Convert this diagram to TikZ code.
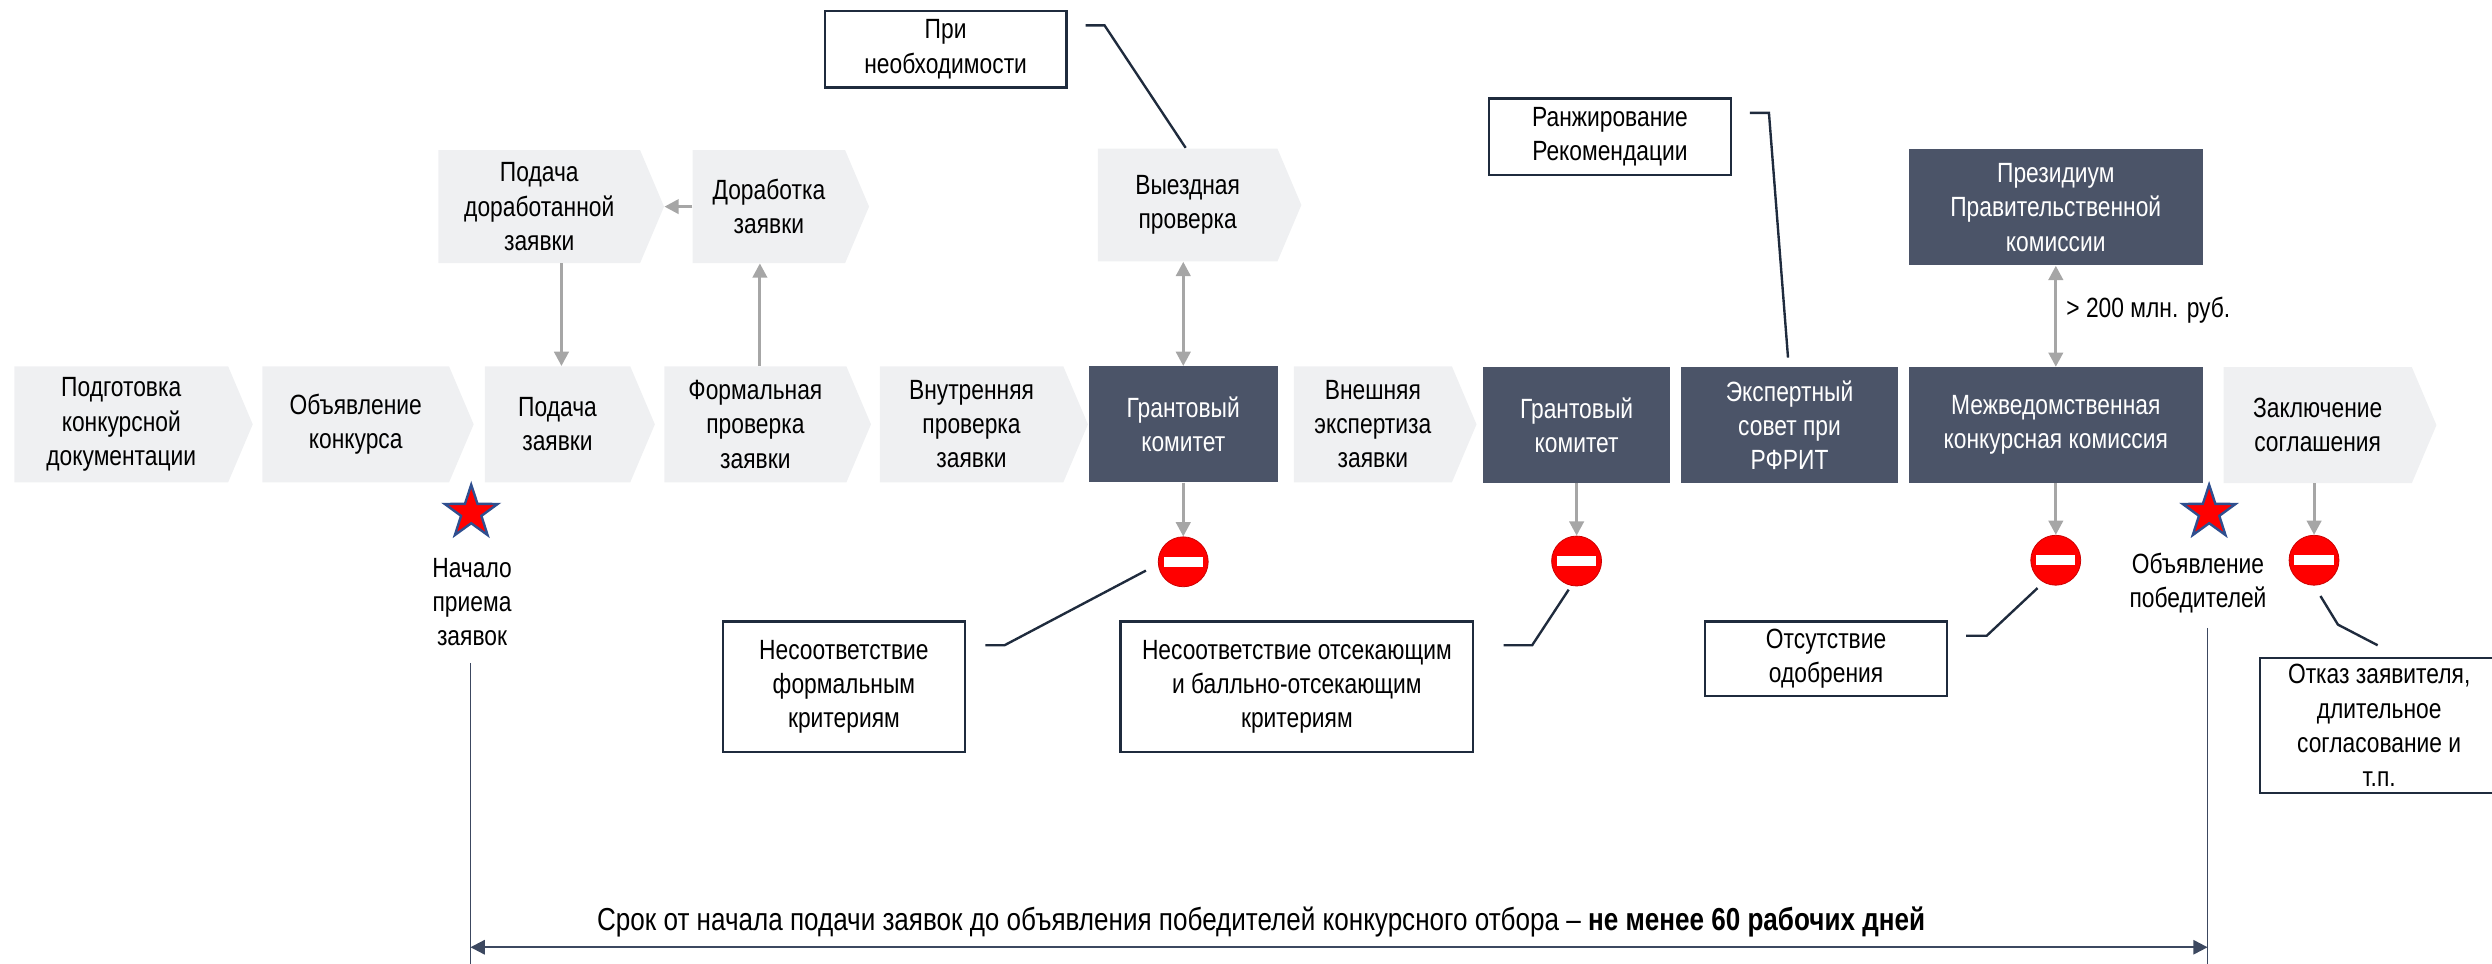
\documentclass[tikz,border=0pt]{standalone}
\usepackage{fontspec}
\setmainfont{Liberation Sans}[FakeStretch=0.82]
\usepackage{xcolor}
\usetikzlibrary{shapes.symbols,shapes.geometric,arrows.meta}
\definecolor{chevgray}{HTML}{EFF0F2}
\definecolor{slate}{HTML}{4B5468}
\definecolor{navy}{HTML}{1F2B3D}
\definecolor{arrgray}{HTML}{A6A6A6}
\definecolor{starblue}{HTML}{2F4F8F}
\definecolor{spanline}{HTML}{3C4860}

\begin{document}
\begin{tikzpicture}[scale=0.35146]
\tikzstyle{every node}+=[inner sep=0pt, align=center, font=\fontsize{17.5}{21.5}\selectfont]
\tikzstyle{chev}=[shape=signal, signal to=east, signal pointer angle=134, fill=chevgray, text=black, minimum height=73pt]
\tikzstyle{dark}=[rectangle, fill=slate, text=white, minimum height=73pt]
\tikzstyle{note}=[rectangle, draw=navy, line width=1.4pt, fill=white]
\tikzstyle{stopsign}=[circle, fill=red, draw=red!80!black, line width=0.5pt, minimum size=31.4pt, path picture={\fill[white] ([xshift=-12.4pt,yshift=-3.2pt]path picture bounding box.center) rectangle ([xshift=12.4pt,yshift=3.2pt]path picture bounding box.center);}]
\tikzstyle{redstar}=[star, star points=5, star point ratio=2.6, fill=red, draw=starblue, line width=1.5pt, minimum size=35pt]
\tikzstyle{grayarr}=[draw=arrgray, line width=2pt, -{Triangle[length=9pt,width=9pt]}]
\tikzstyle{grayboth}=[draw=arrgray, line width=2pt, {Triangle[length=9pt,width=9pt]}-{Triangle[length=9pt,width=9pt]}]
\tikzstyle{callout}=[draw=navy, line width=1.5pt]
\useasboundingbox (0,0) rectangle (156.8,-60.6);
\node [chev, minimum width=150pt] (prep) at (7.63,-26.7) {Подготовка\\конкурсной\\документации};
\node [chev, minimum width=133pt] (announce) at (22.38,-26.7) {Объявление\\конкурса};
\node [chev, minimum width=107pt] (submit) at (35.08,-26.7) {Подача\\заявки};
\node [chev, minimum width=130pt] (formal) at (47.53,-26.7) {Формальная\\проверка\\заявки};
\node [chev, minimum width=131pt] (internal) at (61.13,-26.7) {Внутренняя\\проверка\\заявки};
\node [dark, minimum width=119pt] (grant1) at (74.45,-26.7) {Грантовый\\комитет};
\node [chev, minimum width=115pt] (external) at (86.38,-26.7) {Внешняя\\экспертиза\\заявки};
\node [dark, minimum width=118pt] (grant2) at (99.2,-26.75) {Грантовый\\комитет};
\node [dark, minimum width=136pt] (expert) at (112.6,-26.75) {Экспертный\\совет при\\РФРИТ};
\node [dark, minimum width=185pt] (mvk) at (129.35,-26.75) {Межведомственная\\конкурсная комиссия};
\node [chev, minimum width=134pt] (concl) at (145.83,-26.75) {Заключение\\соглашения};
\node [chev, minimum width=142pt, minimum height=71pt] (resubmit) at (33.93,-13) {Подача\\доработанной\\заявки};
\node [chev, minimum width=111pt, minimum height=71pt] (rework) at (48.38,-13) {Доработка\\заявки};
\node [chev, minimum width=128pt, minimum height=71pt] (visit) at (74.73,-12.9) {Выездная\\проверка};
\node [dark, minimum width=185pt] (presid) at (129.35,-13.05) {Президиум\\Правительственной\\комиссии};
\node [note, minimum width=152pt, minimum height=48pt] (need) at (59.5,-3.1) {При\\необходимости};
\node [note, minimum width=152pt, minimum height=48pt] (rank) at (101.3,-8.6) {Ранжирование\\Рекомендации};
\node [note, minimum width=152pt, minimum height=82pt] (critformal) at (53.1,-43.2) {Несоответствие\\формальным\\критериям};
\node [note, minimum width=222pt, minimum height=82pt] (critcut) at (81.6,-43.2) {Несоответствие отсекающим\\и балльно-отсекающим\\критериям};
\node [note, minimum width=152pt, minimum height=47pt] (noapprove) at (114.9,-41.45) {Отсутствие\\одобрения};
\node [note, minimum width=150pt, minimum height=85pt] (refuse) at (149.7,-45.65) {Отказ заявителя,\\длительное\\согласование и\\т.п.};
\node [stopsign] (stop1) at (74.45,-35.35) {};
\node [stopsign] (stop2) at (99.2,-35.3) {};
\node [stopsign] (stop3) at (129.35,-35.25) {};
\node [stopsign] (stop4) at (145.6,-35.25) {};
\node [redstar] (star1) at (29.65,-32.25) {};
\node [redstar] (star2) at (139,-32.25) {};
\node (startlbl) at (29.7,-37.9) {Начало\\приема\\заявок};
\node (endlbl) at (138.3,-36.7) {Объявление\\победителей};
\node [anchor=west] (threshold) at (130,-19.5) {> 200 млн. руб.};
\node [font=\fontsize{20}{24}\selectfont] (term) at (79.35,-58) {Срок от начала подачи заявок до объявления победителей конкурсного отбора – \textbf{не менее 60 рабочих дней}};
\draw [grayarr] (rework.west) -- (resubmit.east);
\draw [grayarr] ([xshift=7pt]submit.north |- resubmit.south) -- ([xshift=7pt]submit.north);
\draw [grayarr] ([xshift=8pt]formal.north) -- ([xshift=8pt]formal.north |- rework.south);
\draw [grayboth] (grant1.north |- visit.south) -- (grant1.north);
\draw [grayboth] (mvk.north) -- (presid.south);
\draw [grayarr] (grant1.south) -- (stop1.north);
\draw [grayarr] (grant2.south) -- (stop2.north);
\draw [grayarr] (mvk.south) -- (stop3.north);
\draw [grayarr] (concl.south -| stop4.north) -- (stop4.north);
\coordinate (needA) at (68.3,-1.6);
\coordinate (needB) at (69.5,-1.6);
\coordinate (needC) at (74.6,-9.3);
\draw [callout] (needA) -- (needB) -- (needC);
\coordinate (rankA) at (110.1,-7.1);
\coordinate (rankB) at (111.3,-7.1);
\coordinate (rankC) at (112.5,-22.5);
\draw [callout] (rankA) -- (rankB) -- (rankC);
\coordinate (formA) at (62,-40.6);
\coordinate (formB) at (63.2,-40.6);
\coordinate (formC) at (72.1,-35.9);
\draw [callout] (formA) -- (formB) -- (formC);
\coordinate (cutA) at (94.6,-40.6);
\coordinate (cutB) at (96.4,-40.6);
\coordinate (cutC) at (98.7,-37.1);
\draw [callout] (cutA) -- (cutB) -- (cutC);
\coordinate (apprA) at (123.7,-40);
\coordinate (apprB) at (125,-40);
\coordinate (apprC) at (128.2,-37);
\draw [callout] (apprA) -- (apprB) -- (apprC);
\coordinate (refA) at (149.6,-40.6);
\coordinate (refB) at (147.1,-39.3);
\coordinate (refC) at (146,-37.5);
\draw [callout] (refA) -- (refB) -- (refC);
\coordinate (startA) at (29.6,-41.7);
\coordinate (startB) at (29.6,-61);
\coordinate (endA) at (138.9,-39.5);
\coordinate (endB) at (138.9,-61);
\draw [spanline, line width=1pt] (startA) -- (startB);
\draw [spanline, line width=1pt] (endA) -- (endB);
\coordinate (spanL) at (29.6,-59.6);
\coordinate (spanR) at (138.9,-59.6);
\draw [spanline, line width=1.3pt, {Triangle[length=9pt,width=9pt]}-{Triangle[length=9pt,width=9pt]}] (spanL) -- (spanR);
\end{tikzpicture}
\end{document}
